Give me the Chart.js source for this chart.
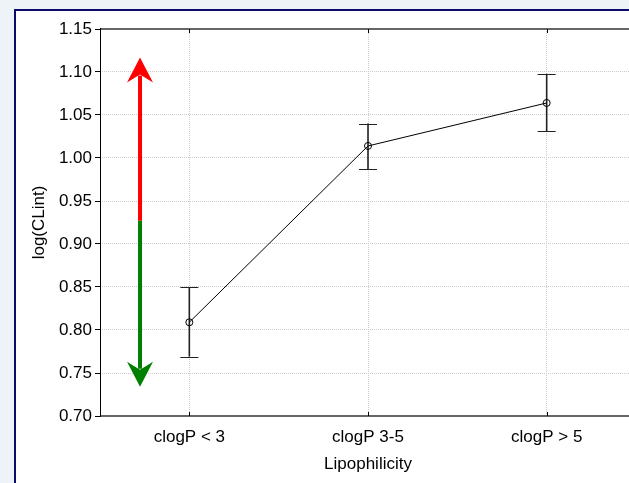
<!DOCTYPE html>
<html>
<head>
<meta charset="utf-8">
<script src="https://cdn.jsdelivr.net/npm/chart.js@4/dist/chart.umd.min.js"></script>
<style>
    html,body {margin:0;padding:0;overflow:hidden;background:#eef3f7;width:629px;height:483px;}
    #panel {position:absolute;left:14px;top:9px;width:700px;height:500px;background:#fff;border-left:2px solid #0b0b6f;border-top:2px solid #0b0b6f;}
    #chart {position:absolute;left:16px;top:11px;}
</style>
</head>
<body>
<div id="panel"></div>
<canvas id="chart" width="660" height="472"></canvas>
<script>
// lipophilicity groups and the mean log(CLint) with its interval
const categories=["clogP < 3","clogP 3-5","clogP > 5"];
const meanValues=[0.809,1.014,1.064];
const lowValues=[0.769,0.987,1.031];
const highValues=[0.850,1.040,1.098];

// double arrow: bottom tip, colour change, top tip
const arrowValues=[0.734,0.927,1.117];
const arrowX=-0.276;

const yTicks=[0.70,0.75,0.80,0.85,0.90,0.95,1.00,1.05,1.10,1.15];

function arrowHead(ctx,x,tip,dir,color) {
    ctx.fillStyle=color;
    ctx.beginPath();
    ctx.moveTo(x,tip);
    ctx.lineTo(x+13,tip+dir*25);
    ctx.lineTo(x,tip+dir*17);
    ctx.lineTo(x-13,tip+dir*25);
    ctx.closePath();
    ctx.fill();
}

const decorations={
    id:"decorations",
    beforeDatasetsDraw(chart) {
        let
            ctx=chart.ctx,
            xs=chart.scales.x,
            ys=chart.scales.y,
            x=xs.getPixelForValue(arrowX),
            yBottom=ys.getPixelForValue(arrowValues[0]),
            ySplit=ys.getPixelForValue(arrowValues[1]),
            yTop=ys.getPixelForValue(arrowValues[2]);
        ctx.save();
        ctx.lineWidth=4;
        ctx.strokeStyle="#ff0000";
        ctx.beginPath();
        ctx.moveTo(x,yTop+18);
        ctx.lineTo(x,ySplit);
        ctx.stroke();
        ctx.strokeStyle="#008000";
        ctx.beginPath();
        ctx.moveTo(x,ySplit);
        ctx.lineTo(x,yBottom-18);
        ctx.stroke();
        arrowHead(ctx,x,yTop,1,"#ff0000");
        arrowHead(ctx,x,yBottom,-1,"#008000");

        // error bars
        ctx.strokeStyle="#222";
        meanValues.forEach((m,i)=>{
            let
                px=xs.getPixelForValue(i),
                lo=ys.getPixelForValue(lowValues[i]),
                hi=ys.getPixelForValue(highValues[i]);
            ctx.lineWidth=1.6;
            ctx.beginPath();
            ctx.moveTo(px,lo);
            ctx.lineTo(px,hi);
            ctx.stroke();
            ctx.lineWidth=1;
            ctx.beginPath();
            ctx.moveTo(px-9,Math.round(lo)+0.5);
            ctx.lineTo(px+9,Math.round(lo)+0.5);
            ctx.moveTo(px-9,Math.round(hi)+0.5);
            ctx.lineTo(px+9,Math.round(hi)+0.5);
            ctx.stroke();
        });
        ctx.restore();
    },
    afterDraw(chart) {
        let
            ctx=chart.ctx,
            a=chart.chartArea,
            xs=chart.scales.x;
        ctx.save();
        ctx.strokeStyle="#666";
        ctx.lineWidth=2;
        ctx.beginPath();
        ctx.moveTo(a.left,a.top);
        ctx.lineTo(a.right+2,a.top);
        ctx.moveTo(a.left,a.bottom);
        ctx.lineTo(a.right+2,a.bottom);
        ctx.stroke();
        ctx.strokeStyle="#000";
        ctx.lineWidth=1;
        ctx.beginPath();
        ctx.moveTo(a.left+0.5,a.top-1);
        ctx.lineTo(a.left+0.5,a.bottom+1);
        categories.forEach((c,i)=>{
            let px=Math.round(xs.getPixelForValue(i))+0.5;
            ctx.moveTo(px,a.top);
            ctx.lineTo(px,a.top+4);
            ctx.moveTo(px,a.bottom);
            ctx.lineTo(px,a.bottom-4);
        });
        ctx.stroke();
        ctx.restore();
    }
};

new Chart(
    document.getElementById("chart"),
    {
        type:"line",
        data:{
            datasets:[{
                data:meanValues.map((v,i)=>({x:i,y:v})),
                borderColor:"#000",
                borderWidth:1,
                pointRadius:3.5,
                pointBorderWidth:1,
                pointBorderColor:"#000",
                pointBackgroundColor:"rgba(255,255,255,0)",
                tension:0
            }]
        },
        options:{
            responsive:false,
            animation:false,
            layout:{padding:{top:18,right:40,left:0,bottom:0}},
            plugins:{legend:{display:false},tooltip:{enabled:false}},
            scales:{
                x:{
                    type:"linear",
                    min:-0.5,
                    max:2.5,
                    afterBuildTicks:scale=>{scale.ticks=categories.map((c,i)=>({value:i}));},
                    afterFit:scale=>{scale.height=67;},
                    grid:{color:"#cccccc",drawTicks:false},
                    border:{display:false,dash:[1,1]},
                    ticks:{
                        color:"#000",
                        padding:11,
                        font:{family:"Liberation Sans",size:17},
                        maxRotation:0,
                        callback:v=>categories[v]
                    },
                    title:{
                        display:true,
                        text:"Lipophilicity",
                        color:"#000",
                        font:{family:"Liberation Sans",size:17},
                        padding:{top:0,bottom:8}
                    }
                },
                y:{
                    min:0.70,
                    max:1.15,
                    afterBuildTicks:scale=>{scale.ticks=yTicks.map(v=>({value:v}));},
                    afterFit:scale=>{scale.width=84;},
                    grid:{color:"#cccccc",tickColor:"#000",tickLength:5},
                    border:{display:false,dash:[1,1]},
                    ticks:{
                        color:"#000",
                        padding:3,
                        font:{family:"Liberation Sans",size:17},
                        callback:v=>v.toFixed(2)
                    },
                    title:{
                        display:true,
                        text:"log(CLint)",
                        color:"#000",
                        font:{family:"Liberation Sans",size:17},
                        padding:{top:13,bottom:0}
                    }
                }
            }
        },
        plugins:[decorations]
    }
);
</script>
</body>
</html>
